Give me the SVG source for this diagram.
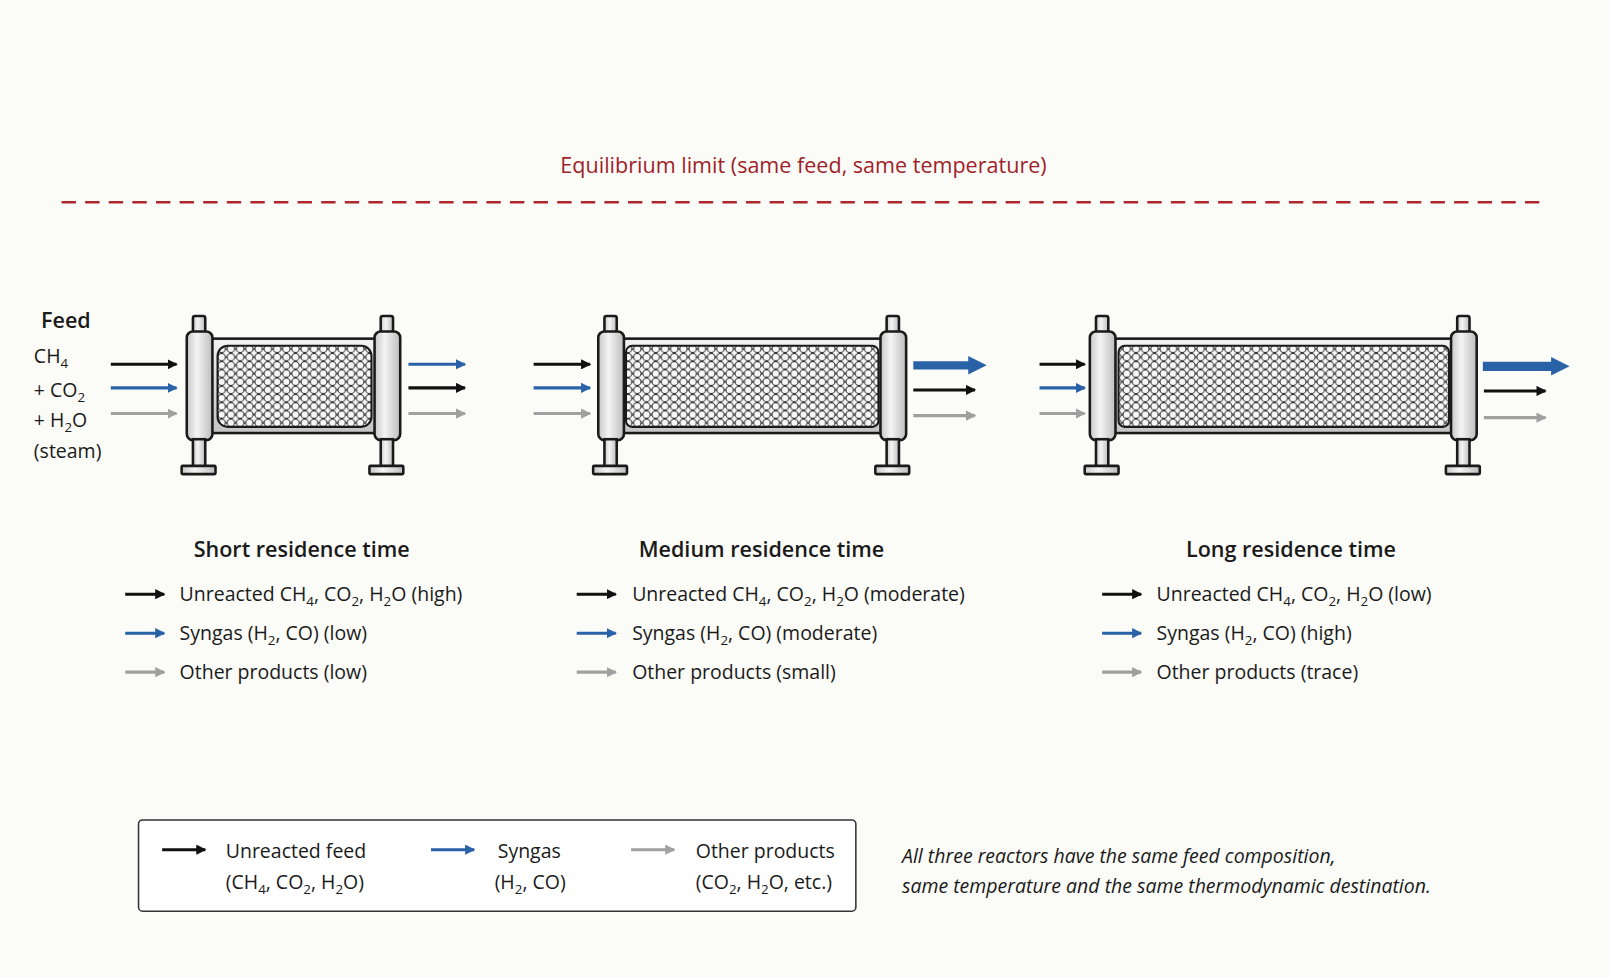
<svg xmlns="http://www.w3.org/2000/svg" width="1609" height="978" viewBox="0 0 1609 978">
<style>
text{font-family:"Open Sans","Noto Sans","Liberation Sans",sans-serif;fill:#1a1a1a;font-size:19px}
.b{font-weight:600;font-size:21px}
.it{font-style:italic;font-size:19px}
.fl{fill:url(#metal);stroke:#1a1a1a;stroke-width:2.5}
.tube{fill:url(#metalv);stroke:#1a1a1a;stroke-width:2.5}
.bed{fill:url(#pel);stroke:#1a1a1a;stroke-width:2}
.k{stroke:#111;stroke-width:3;fill:none;marker-end:url(#ak)}
.bl{stroke:#2a62a8;stroke-width:3;fill:none;marker-end:url(#ab)}
.g{stroke:#a0a0a0;stroke-width:3;fill:none;marker-end:url(#ag)}
</style>
<defs>
<linearGradient id="metal" x1="0" x2="1"><stop offset="0" stop-color="#c8c8c8"/><stop offset="0.4" stop-color="#f4f4f4"/><stop offset="1" stop-color="#bdbdbd"/></linearGradient>
<linearGradient id="metalv" x1="0" y1="0" x2="0" y2="1"><stop offset="0" stop-color="#f2f2f2"/><stop offset="1" stop-color="#c4c4c4"/></linearGradient>
<pattern id="pel" width="9" height="8" patternUnits="userSpaceOnUse"><rect width="9" height="8" fill="#e8e8e8"/><g fill="#f7f7f7" stroke="#2a2a2a" stroke-width="0.9"><circle cx="4.5" cy="0" r="3.6"/><circle cx="4.5" cy="8" r="3.6"/><circle cx="0" cy="4" r="3.6"/><circle cx="9" cy="4" r="3.6"/></g></pattern>
<marker id="ak" markerWidth="10" markerHeight="10" refX="7" refY="4" orient="auto" markerUnits="userSpaceOnUse" viewBox="0 0 8 8"><path d="M0,0 L8,4 L0,8z" fill="#111"/></marker>
<marker id="ab" markerWidth="10" markerHeight="10" refX="7" refY="4" orient="auto" markerUnits="userSpaceOnUse" viewBox="0 0 8 8"><path d="M0,0 L8,4 L0,8z" fill="#2a62a8"/></marker>
<marker id="ag" markerWidth="10" markerHeight="10" refX="7" refY="4" orient="auto" markerUnits="userSpaceOnUse" viewBox="0 0 8 8"><path d="M0,0 L8,4 L0,8z" fill="#a0a0a0"/></marker>
<marker id="abig" markerWidth="18" markerHeight="18" refX="2" refY="4" orient="auto" markerUnits="userSpaceOnUse" viewBox="0 0 8 8"><path d="M0,0 L8,4 L0,8z" fill="#2a62a8"/></marker>
<g id="fl">
<rect x="6" y="0" width="12" height="16" rx="2" class="fl"/>
<rect x="0" y="15" width="25" height="106" rx="6" class="fl"/>
<rect x="6" y="120" width="12" height="28" class="fl"/>
<rect x="-5" y="146" width="33" height="8" rx="1" class="fl"/>
</g>
</defs>
<rect width="1609" height="978" fill="#fbfbf7"/>
<g transform="scale(1.0262)">
<text x="783" y="169" text-anchor="middle" style="fill:#a01f2a;font-size:21px">Equilibrium limit (same feed, same temperature)</text>
<line x1="60" y1="197" x2="1507" y2="197" stroke="#b0262e" stroke-width="2.5" stroke-dasharray="14 9"/>
<g id="feed">
<text x="40" y="320" class="b">Feed</text>
<text x="33" y="354">CH<tspan font-size="13" dy="5">4</tspan></text>
<text x="33" y="387">+ CO<tspan font-size="13" dy="5">2</tspan></text>
<text x="33" y="416">+ H<tspan font-size="13" dy="5">2</tspan><tspan dy="-5">O</tspan></text>
<text x="33" y="446">(steam)</text>
</g>
<g id="reactor1">
<rect x="205" y="330" width="163" height="92" class="tube"/>
<rect x="212" y="337" width="150" height="79" rx="10" class="bed"/>
<use href="#fl" x="182" y="308"/><use href="#fl" x="365" y="308"/>
</g>
<g id="reactor2">
<rect x="605" y="330" width="257" height="92" class="tube"/>
<rect x="610" y="337" width="246" height="79" rx="6" class="bed"/>
<use href="#fl" x="583" y="308"/><use href="#fl" x="858" y="308"/>
</g>
<g id="reactor3">
<rect x="1085" y="330" width="333" height="92" class="tube"/>
<rect x="1090" y="337" width="322" height="79" rx="6" class="bed"/>
<use href="#fl" x="1062" y="308"/><use href="#fl" x="1414" y="308"/>
</g>
<g id="connectors">
<path class="k" d="M108 355H172"/><path class="bl" d="M108 378H172"/><path class="g" d="M108 403H172"/>
<path class="bl" d="M398 355H453"/><path class="k" d="M398 378H453"/><path class="g" d="M398 403H453"/>
<path class="k" d="M520 355H575"/><path class="bl" d="M520 378H575"/><path class="g" d="M520 403H575"/>
<path d="M890 356H948" stroke="#2a62a8" stroke-width="8" marker-end="url(#abig)"/><path class="k" d="M890 380H950"/><path class="g" d="M890 405H950" stroke-width="2.5"/>
<path class="k" d="M1013 355H1057"/><path class="bl" d="M1013 378H1057"/><path class="g" d="M1013 403H1057"/>
<path d="M1445 357H1516" stroke="#2a62a8" stroke-width="9" marker-end="url(#abig)"/><path class="k" d="M1446 381H1506" stroke-width="2"/><path class="g" d="M1446 407H1506" stroke-width="2"/>
</g>
<g id="short">
<text x="294" y="543" text-anchor="middle" class="b">Short residence time</text>
<path class="k" d="M122 579H160"/><path class="bl" d="M122 617H160"/><path class="g" d="M122 655H160"/>
<text x="175" y="586">Unreacted CH<tspan font-size="13" dy="5">4</tspan><tspan dy="-5">, CO</tspan><tspan font-size="13" dy="5">2</tspan><tspan dy="-5">, H</tspan><tspan font-size="13" dy="5">2</tspan><tspan dy="-5">O (high)</tspan></text>
<text x="175" y="624">Syngas (H<tspan font-size="13" dy="5">2</tspan><tspan dy="-5">, CO) (low)</tspan></text>
<text x="175" y="662">Other products (low)</text>
</g>
<g id="medium">
<text x="742" y="543" text-anchor="middle" class="b">Medium residence time</text>
<path class="k" d="M562 579H600"/><path class="bl" d="M562 617H600"/><path class="g" d="M562 655H600"/>
<text x="616" y="586">Unreacted CH<tspan font-size="13" dy="5">4</tspan><tspan dy="-5">, CO</tspan><tspan font-size="13" dy="5">2</tspan><tspan dy="-5">, H</tspan><tspan font-size="13" dy="5">2</tspan><tspan dy="-5">O (moderate)</tspan></text>
<text x="616" y="624">Syngas (H<tspan font-size="13" dy="5">2</tspan><tspan dy="-5">, CO) (moderate)</tspan></text>
<text x="616" y="662">Other products (small)</text>
</g>
<g id="long">
<text x="1258" y="543" text-anchor="middle" class="b">Long residence time</text>
<path class="k" d="M1074 579H1112"/><path class="bl" d="M1074 617H1112"/><path class="g" d="M1074 655H1112"/>
<text x="1127" y="586">Unreacted CH<tspan font-size="13" dy="5">4</tspan><tspan dy="-5">, CO</tspan><tspan font-size="13" dy="5">2</tspan><tspan dy="-5">, H</tspan><tspan font-size="13" dy="5">2</tspan><tspan dy="-5">O (low)</tspan></text>
<text x="1127" y="624">Syngas (H<tspan font-size="13" dy="5">2</tspan><tspan dy="-5">, CO) (high)</tspan></text>
<text x="1127" y="662">Other products (trace)</text>
</g>
<g id="legend">
<rect x="135" y="799" width="699" height="89" rx="4" fill="#fff" stroke="#333" stroke-width="1.5"/>
<path class="k" d="M158 828H200"/><path class="bl" d="M420 828H462"/><path class="g" d="M615 828H657"/>
<text x="220" y="836">Unreacted feed</text>
<text x="220" y="866">(CH<tspan font-size="13" dy="5">4</tspan><tspan dy="-5">, CO</tspan><tspan font-size="13" dy="5">2</tspan><tspan dy="-5">, H</tspan><tspan font-size="13" dy="5">2</tspan><tspan dy="-5">O)</tspan></text>
<text x="485" y="836">Syngas</text>
<text x="482" y="866">(H<tspan font-size="13" dy="5">2</tspan><tspan dy="-5">, CO)</tspan></text>
<text x="678" y="836">Other products</text>
<text x="678" y="866">(CO<tspan font-size="13" dy="5">2</tspan><tspan dy="-5">, H</tspan><tspan font-size="13" dy="5">2</tspan><tspan dy="-5">O, etc.)</tspan></text>
</g>
<g id="note">
<text x="879" y="841" class="it">All three reactors have the same feed composition,</text>
<text x="879" y="870" class="it">same temperature and the same thermodynamic destination.</text>
</g>
</g>
</svg>
